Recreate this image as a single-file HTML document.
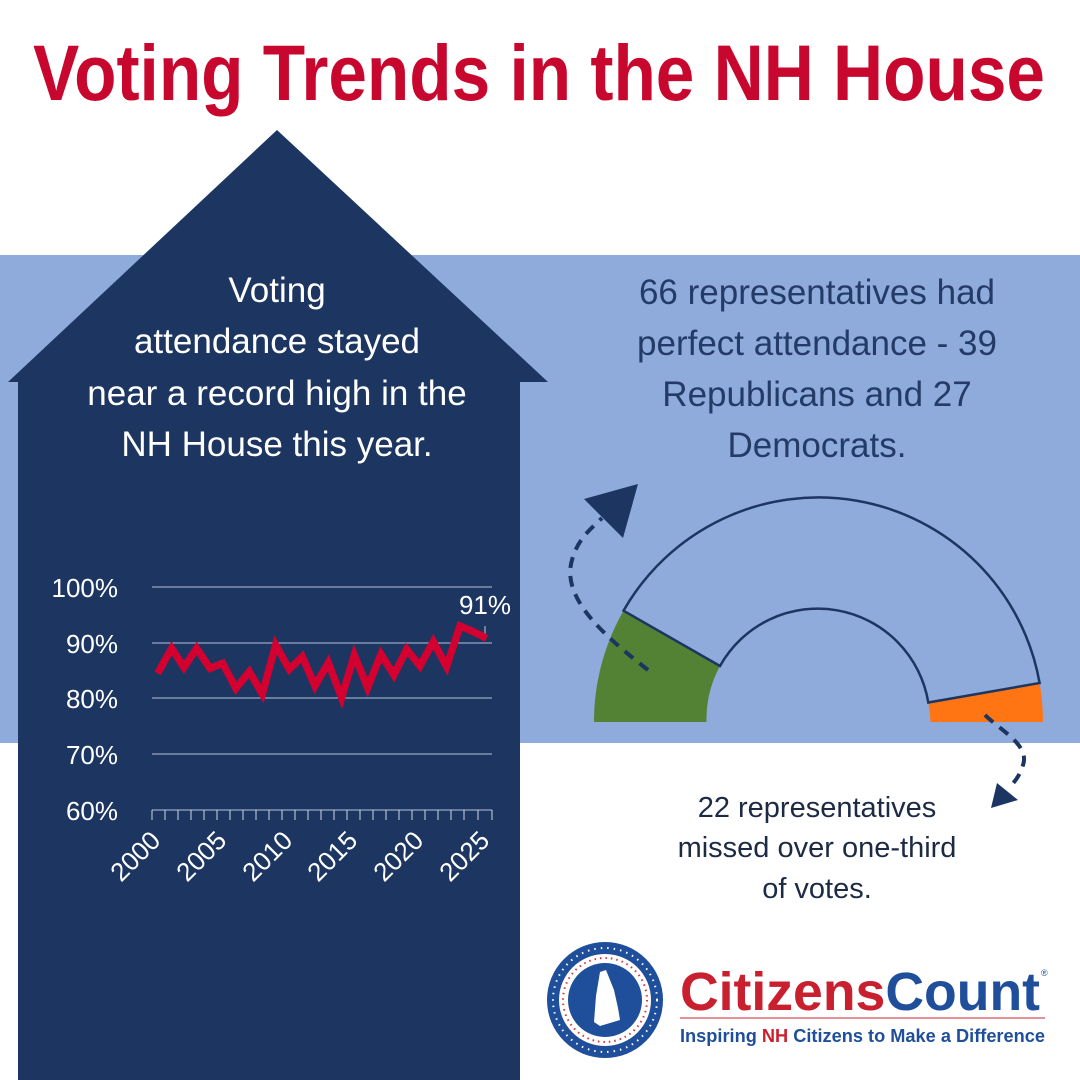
<!DOCTYPE html>
<html><head><meta charset="utf-8"><style>html,body{margin:0;padding:0;background:#fff}svg{display:block}</style></head>
<body>
<svg width="1080" height="1080" viewBox="0 0 1080 1080" xmlns="http://www.w3.org/2000/svg" font-family="'Liberation Sans', 'DejaVu Sans', sans-serif">
<rect width="1080" height="1080" fill="#fff"/>
<text x="33" y="100" font-size="79" font-weight="bold" fill="#c8072f" textLength="1012" lengthAdjust="spacingAndGlyphs">Voting Trends in the NH House</text>
<rect x="0" y="255" width="1080" height="488" fill="#8eabdc"/>
<polygon points="277,130 548,382 520,382 520,1080 18,1080 18,382 8,382" fill="#1c3661"/>
<g fill="#fff" font-size="35" text-anchor="middle">
<text x="277" y="302">Voting</text>
<text x="277" y="353">attendance stayed</text>
<text x="277" y="405">near a record high in the</text>
<text x="277" y="456">NH House this year.</text>
</g>
<g fill="#233b66" font-size="35" text-anchor="middle">
<text x="817" y="304">66 representatives had</text>
<text x="817" y="355">perfect attendance - 39</text>
<text x="817" y="406">Republicans and 27</text>
<text x="817" y="457">Democrats.</text>
</g>
<g fill="#1c2a44" font-size="29" text-anchor="middle">
<text x="817" y="817">22 representatives</text>
<text x="817" y="857">missed over one-third</text>
<text x="817" y="898">of votes.</text>
</g>
<!-- chart -->
<g stroke="#b7c3da" stroke-width="1">
<line x1="152" y1="587" x2="492" y2="587"/>
<line x1="152" y1="643" x2="492" y2="643"/>
<line x1="152" y1="698" x2="492" y2="698"/>
<line x1="152" y1="754" x2="492" y2="754"/>
<line x1="152" y1="810" x2="492" y2="810"/>
</g>
<g stroke="#d0d8e6" stroke-width="1">
<path d="M152 810v10M165 810v10M178 810v10M191 810v10M204 810v10M217 810v10M230 810v10M243 810v10M256 810v10M269 810v10M282 810v10M295 810v10M308 810v10M321 810v10M334 810v10M347 810v10M360 810v10M373 810v10M386 810v10M399 810v10M412 810v10M425 810v10M438 810v10M451 810v10M464 810v10M478 810v10M492 810v10"/>
</g>
<g fill="#fff" font-size="26" text-anchor="end">
<text x="118" y="597">100%</text>
<text x="118" y="653">90%</text>
<text x="118" y="708">80%</text>
<text x="118" y="764">70%</text>
<text x="118" y="820">60%</text>
</g>
<g fill="#fff" font-size="26" text-anchor="end">
<text transform="translate(162,842) rotate(-45)">2000</text>
<text transform="translate(228,842) rotate(-45)">2005</text>
<text transform="translate(294,842) rotate(-45)">2010</text>
<text transform="translate(359,842) rotate(-45)">2015</text>
<text transform="translate(425,842) rotate(-45)">2020</text>
<text transform="translate(491,842) rotate(-45)">2025</text>
</g>
<text x="485" y="614" fill="#fff" font-size="26" text-anchor="middle">91%</text>
<line x1="485" y1="626" x2="485" y2="634" stroke="#ccc" stroke-width="1"/>
<g transform="translate(30,560) scale(0.3333)">
<polyline fill="none" stroke="#d4002f" stroke-width="22" stroke-linejoin="miter" points="383,340 425,265 462,322 500,265 540,325 578,310 618,385 658,335 697,402 737,255 778,328 817,290 855,378 895,308 935,413 973,285 1013,383 1053,283 1092,345 1130,268 1170,318 1210,245 1250,320 1290,198 1330,215 1370,235"/>
</g>
<!-- gauge -->
<g>
<path d="M594 722 A224.5 224.5 0 0 1 623.5 610.7 L720 666 A112 112 0 0 0 706.5 722 Z" fill="#548235"/>
<path d="M1043 722 A224.5 224.5 0 0 0 1039.6 683 L928.3 702.5 A112 112 0 0 1 930.5 722 Z" fill="#ff7413"/>
<path d="M623.5 610.7 A224.5 224.5 0 0 1 1039.6 683 L928.3 702.5 A112 112 0 0 0 720 666 Z" fill="none" stroke="#1c3661" stroke-width="2.5"/>
</g>
<!-- dashed arrows -->
<g fill="none" stroke="#1c3661" stroke-width="4" stroke-dasharray="11,8">
<path d="M648 670 C610 640 560 600 572 560 C578 538 592 528 602 518"/>
<path d="M985 715 C1000 730 1030 745 1023 765 C1020 775 1016 780 1010 787"/>
</g>
<polygon points="638,484 584,499 623,538" fill="#1c3661"/>
<polygon points="991,808 997,783 1018,800" fill="#1c3661"/>
<!-- logo -->
<circle cx="605" cy="1000" r="58" fill="#1f4f9a"/>
<circle cx="605" cy="1000" r="46" fill="#fff"/>
<circle cx="605" cy="1000" r="42" fill="none" stroke="#d33" stroke-width="2" stroke-dasharray="1.5,4"/>
<circle cx="605" cy="1000" r="52" fill="none" stroke="#fff" stroke-width="2" stroke-dasharray="1.5,5"/>
<circle cx="605" cy="1000" r="37" fill="#1f4f9a"/>
<polygon points="600,972 606,970 614,990 618,1008 620,1020 600,1026 594,1022 596,996" fill="#fff"/>
<text x="680" y="1010" font-size="54" font-weight="bold" textLength="360" lengthAdjust="spacingAndGlyphs"><tspan fill="#c8202f">Citizens</tspan><tspan fill="#1f4f9a">Count</tspan></text>
<text x="1041" y="976" font-size="9" fill="#1f4f9a">®</text>
<line x1="680" y1="1018" x2="1045" y2="1018" stroke="#c8202f" stroke-width="1"/>
<text x="680" y="1042" font-size="18" font-weight="bold" fill="#1f4f9a" textLength="365" lengthAdjust="spacingAndGlyphs">Inspiring <tspan fill="#c8202f">NH</tspan> Citizens to Make a Difference</text>
</svg>
</body></html>
